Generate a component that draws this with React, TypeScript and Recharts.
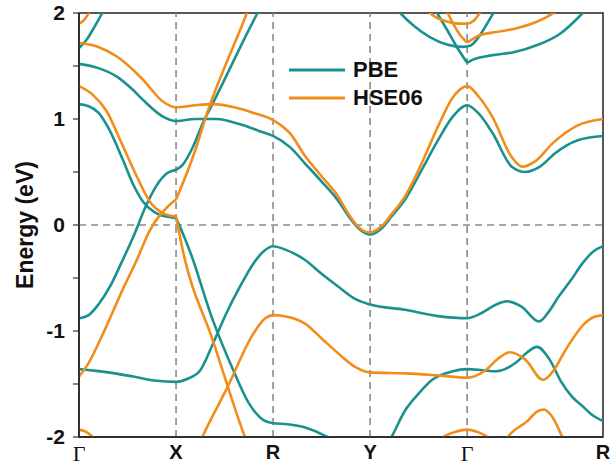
import React from 'react';
import { LineChart, Line, XAxis, YAxis, ReferenceLine, ReferenceArea, Label } from 'recharts';

// k-path high-symmetry points and labels
const kTicks = [0, 1, 2, 3, 4, 5.4];
const kLabels = ['Γ', 'X', 'R', 'Y', 'Γ', 'R'];
const eTicks = [-2, -1.5, -1, -0.5, 0, 0.5, 1, 1.5, 2];
const vLines = [1, 2, 3, 4];

// PBE bands [k, E]
const pbeTopLeft = [[0, 1.67], [0.08, 1.75], [0.16, 1.87], [0.24, 2.0], [0.28, 2.07]];
const pbeCond = [[0, 1.52], [0.2, 1.48], [0.39, 1.4], [0.55, 1.28], [0.66, 1.18], [0.87, 1.02], [1, 0.98], [1.2, 1.0], [1.42, 1.0], [1.66, 0.95], [1.85, 0.89], [2, 0.84], [2.18, 0.73], [2.33, 0.58], [2.5, 0.41], [2.67, 0.23], [2.78, 0.08], [2.88, -0.03], [3, -0.09], [3.12, -0.03], [3.22, 0.08], [3.36, 0.24], [3.55, 0.55], [3.7, 0.8], [3.85, 1.02], [4, 1.13], [4.12, 1.05], [4.26, 0.87], [4.46, 0.55], [4.6, 0.5], [4.75, 0.55], [4.91, 0.68], [5.14, 0.8], [5.4, 0.84]];
const pbeDownA = [[0, 1.14], [0.1, 1.12], [0.2, 1.06], [0.3, 0.92], [0.45, 0.62], [0.56, 0.38], [0.66, 0.22], [0.78, 0.12], [0.9, 0.08], [1, 0.065]];
const pbeDownB = [[1, 0.065], [1.07, -0.08], [1.14, -0.24], [1.38, -0.9], [1.59, -1.37], [1.75, -1.68], [1.9, -1.84], [2, -1.87], [2.15, -1.88], [2.33, -1.91], [2.56, -2.0], [2.65, -2.05]];
const pbeUpA = [[0, -0.88], [0.1, -0.85], [0.2, -0.75], [0.32, -0.58], [0.44, -0.35], [0.56, -0.11], [0.7, 0.2], [0.82, 0.4], [0.91, 0.49], [1, 0.52]];
const pbeUpB = [[1, 0.52], [1.07, 0.57], [1.16, 0.71], [1.29, 0.99], [1.38, 1.15], [1.84, 2.0], [1.9, 2.1]];
const pbeVal = [[0, -1.36], [0.3, -1.39], [0.56, -1.43], [0.8, -1.47], [1, -1.48], [1.12, -1.45], [1.25, -1.37], [1.38, -1.12], [1.52, -0.83], [1.66, -0.58], [1.8, -0.36], [1.9, -0.25], [2, -0.2], [2.12, -0.23], [2.33, -0.33], [2.5, -0.46], [2.67, -0.58], [2.85, -0.7], [3, -0.75], [3.36, -0.8], [3.7, -0.86], [4, -0.88], [4.15, -0.83], [4.3, -0.75], [4.41, -0.72], [4.56, -0.77], [4.74, -0.91], [4.84, -0.82], [4.94, -0.68], [5.07, -0.52], [5.19, -0.36], [5.3, -0.25], [5.4, -0.2]];
const pbeLow = [[3.15, -2.1], [3.22, -2.0], [3.36, -1.75], [3.5, -1.59], [3.64, -1.46], [3.85, -1.38], [4, -1.36], [4.16, -1.37], [4.3, -1.38], [4.5, -1.3], [4.62, -1.2], [4.72, -1.15], [4.85, -1.27], [4.97, -1.48], [5.08, -1.62], [5.19, -1.71], [5.3, -1.8], [5.4, -1.85]];
const pbeGammaA = [[3.25, 2.06], [3.31, 2.0], [3.45, 1.88], [3.62, 1.77], [3.8, 1.7], [3.95, 1.68], [4.03, 1.69], [4.1, 1.75], [4.18, 1.86], [4.27, 2.0], [4.31, 2.06]];
const pbeGammaBL = [[3.65, 2.06], [3.69, 2.0], [3.8, 1.83], [3.9, 1.67], [4, 1.53]];
const pbeGammaBR = [[4, 1.53], [4.06, 1.56], [4.25, 1.6], [4.48, 1.63], [4.73, 1.7], [4.95, 1.8], [5.19, 2.0], [5.25, 2.06]];

// HSE06 bands [k, E]
const hseTopLeft = [[0, 1.9], [0.05, 1.93], [0.1, 2.0], [0.13, 2.06]];
const hseCond = [[0, 1.72], [0.2, 1.68], [0.39, 1.59], [0.55, 1.47], [0.66, 1.37], [0.87, 1.16], [1, 1.11], [1.2, 1.13], [1.38, 1.14], [1.6, 1.11], [1.79, 1.06], [2, 0.99], [2.18, 0.86], [2.33, 0.65], [2.5, 0.46], [2.67, 0.27], [2.78, 0.1], [2.88, -0.02], [3, -0.07], [3.12, -0.01], [3.22, 0.1], [3.36, 0.27], [3.55, 0.62], [3.7, 0.93], [3.85, 1.2], [4, 1.31], [4.12, 1.21], [4.26, 1.02], [4.46, 0.64], [4.57, 0.55], [4.7, 0.6], [4.88, 0.77], [5.14, 0.94], [5.4, 1.0]];
const hseDownA = [[0, 1.31], [0.14, 1.23], [0.28, 1.08], [0.45, 0.75], [0.6, 0.45], [0.73, 0.22], [0.87, 0.11], [1, 0.08]];
const hseDownB = [[1, 0.08], [1.07, -0.24], [1.38, -1.09], [1.71, -2.0], [1.76, -2.12]];
const hseUpA = [[0, -1.43], [0.1, -1.3], [0.22, -1.08], [0.45, -0.61], [0.6, -0.32], [0.73, -0.05], [0.91, 0.17], [1, 0.24]];
const hseUpB = [[1, 0.24], [1.2, 0.71], [1.3, 1.0], [1.73, 2.0], [1.78, 2.12]];
const hseVal = [[1.22, -2.1], [1.27, -2.0], [1.53, -1.53], [1.8, -1.02], [1.92, -0.88], [2, -0.85], [2.12, -0.86], [2.33, -0.93], [2.5, -1.07], [2.67, -1.21], [2.85, -1.34], [3, -1.39], [3.36, -1.4], [3.7, -1.42], [4, -1.44], [4.19, -1.37], [4.32, -1.26], [4.44, -1.2], [4.6, -1.27], [4.78, -1.46], [4.9, -1.36], [5.0, -1.2], [5.21, -0.93], [5.3, -0.87], [5.4, -0.85]];
const hseBotLeft = [[0, -1.93], [0.07, -1.95], [0.14, -2.0], [0.2, -2.06]];
const hseBotGamma = [[3.6, -2.12], [3.75, -2.0], [3.88, -1.95], [4, -1.93], [4.1, -1.95], [4.21, -2.0], [4.35, -2.12]];
const hseBotHump = [[4.3, -2.2], [4.42, -2.0], [4.62, -1.85], [4.72, -1.76], [4.79, -1.74], [4.87, -1.8], [4.98, -2.0], [5.05, -2.15]];
const hseGammaSmall = [[3.58, 2.05], [3.62, 2.0], [3.79, 1.92], [3.92, 1.9], [4, 1.9], [4.07, 1.93], [4.13, 2.0], [4.17, 2.06]];
const hseGammaVL = [[3.77, 2.06], [3.8, 2.0], [3.93, 1.79], [4, 1.72]];
const hseGammaVR = [[4, 1.72], [4.13, 1.79], [4.3, 1.82], [4.48, 1.85], [4.7, 1.91], [4.89, 2.0], [4.95, 2.04]];

const pbeBands = [pbeTopLeft, pbeCond, pbeDownA, pbeDownB, pbeUpA, pbeUpB, pbeVal, pbeLow, pbeGammaA, pbeGammaBL, pbeGammaBR];
const hseBands = [hseTopLeft, hseCond, hseDownA, hseDownB, hseUpA, hseUpB, hseVal, hseBotLeft, hseBotGamma, hseBotHump, hseGammaSmall, hseGammaVL, hseGammaVR];

const PBE_COLOR = '#1B918F';
const HSE_COLOR = '#F28D1A';
const SANS = '"Liberation Sans", Arial, sans-serif';
const SERIF = '"Liberation Serif", "Times New Roman", serif';

const toPts = (b: number[][]) => b.map(([x, y]) => ({ x, y }));

const XTick = (props: any) => {
  const { x, y, payload } = props;
  const idx = kTicks.indexOf(payload.value);
  const lbl = kLabels[idx];
  const g = lbl === 'Γ';
  return (
    <text x={x} y={y} dy="0.71em" textAnchor="middle" fontFamily={g ? SERIF : SANS}
      fontWeight={g ? 'normal' : 'bold'} fontSize={g ? 22 : 20} fill="#111">
      {lbl}
    </text>
  );
};

const YTick = (props: any) => {
  const { x, y, payload } = props;
  if (!Number.isInteger(payload.value)) return null;
  return (
    <text x={x} y={y} dy="0.355em" textAnchor="end" fontFamily={SANS} fontWeight="bold" fontSize={21} fill="#111">
      {payload.value}
    </text>
  );
};

const YLabel = (props: any) => {
  const vb = props.viewBox || { x: 0, y: 13, width: 79, height: 424 };
  const cx = vb.x + 25;
  const cy = vb.y + vb.height / 2;
  return (
    <text x={cx} y={cy} transform={`rotate(-90, ${cx}, ${cy})`} textAnchor="middle" dominantBaseline="central"
      fontFamily={SANS} fontWeight="bold" fontSize={23} fill="#111">
      Energy (eV)
    </text>
  );
};

const legendItems = [
  { name: 'PBE', color: PBE_COLOR },
  { name: 'HSE06', color: HSE_COLOR },
];

export default function App() {
  return (
    <div style={{ position: 'absolute', left: 0, top: 0, width: 610, height: 472, background: '#fff' }}>
      <LineChart width={610} height={472} margin={{ top: 13, right: 7, bottom: 0, left: 0 }}>
        <XAxis type="number" dataKey="x" domain={[0, 5.4]} ticks={kTicks} allowDataOverflow
          height={35} tickLine={false} tick={<XTick />} tickSize={6} tickMargin={2}
          axisLine={{ stroke: '#222', strokeWidth: 1.5 }} interval={0} />
        <YAxis type="number" domain={[-2, 2]} ticks={eTicks} allowDataOverflow width={79}
          tick={<YTick />} tickSize={6} tickMargin={8} interval={0}
          tickLine={{ stroke: '#333', strokeWidth: 1.2 }} axisLine={{ stroke: '#222', strokeWidth: 1.5 }}>
          <Label content={<YLabel />} position="insideLeft" />
        </YAxis>
        {vLines.map((v) => (
          <ReferenceLine key={'v' + v} x={v} stroke="#8a8a8a" strokeWidth={1.6} strokeDasharray="7 5" />
        ))}
        <ReferenceLine y={0} stroke="#8a8a8a" strokeWidth={1.6} strokeDasharray="7 5" />
        {pbeBands.map((b, i) => (
          <Line key={'p' + i} data={toPts(b)} dataKey="y" type="monotone" stroke={PBE_COLOR} strokeWidth={2.6}
            dot={false} activeDot={false} isAnimationActive={false} />
        ))}
        {hseBands.map((b, i) => (
          <Line key={'h' + i} data={toPts(b)} dataKey="y" type="monotone" stroke={HSE_COLOR} strokeWidth={2.6}
            dot={false} activeDot={false} isAnimationActive={false} />
        ))}
        <ReferenceArea x1={0} x2={5.4} y1={-2} y2={2} fill="none" fillOpacity={0} stroke="#222" strokeWidth={1.5} />
      </LineChart>
      <div style={{ position: 'absolute', left: 289, top: 56, fontFamily: SANS, fontWeight: 'bold', fontSize: 22, color: '#111' }}>
        {legendItems.map((it) => (
          <div key={it.name} style={{ display: 'flex', alignItems: 'center', height: 28 }}>
            <svg width={58} height={6} style={{ marginRight: 6 }}>
              <line x1={0} y1={3} x2={56} y2={3} stroke={it.color} strokeWidth={3} />
            </svg>
            <span>{it.name}</span>
          </div>
        ))}
      </div>
    </div>
  );
}
